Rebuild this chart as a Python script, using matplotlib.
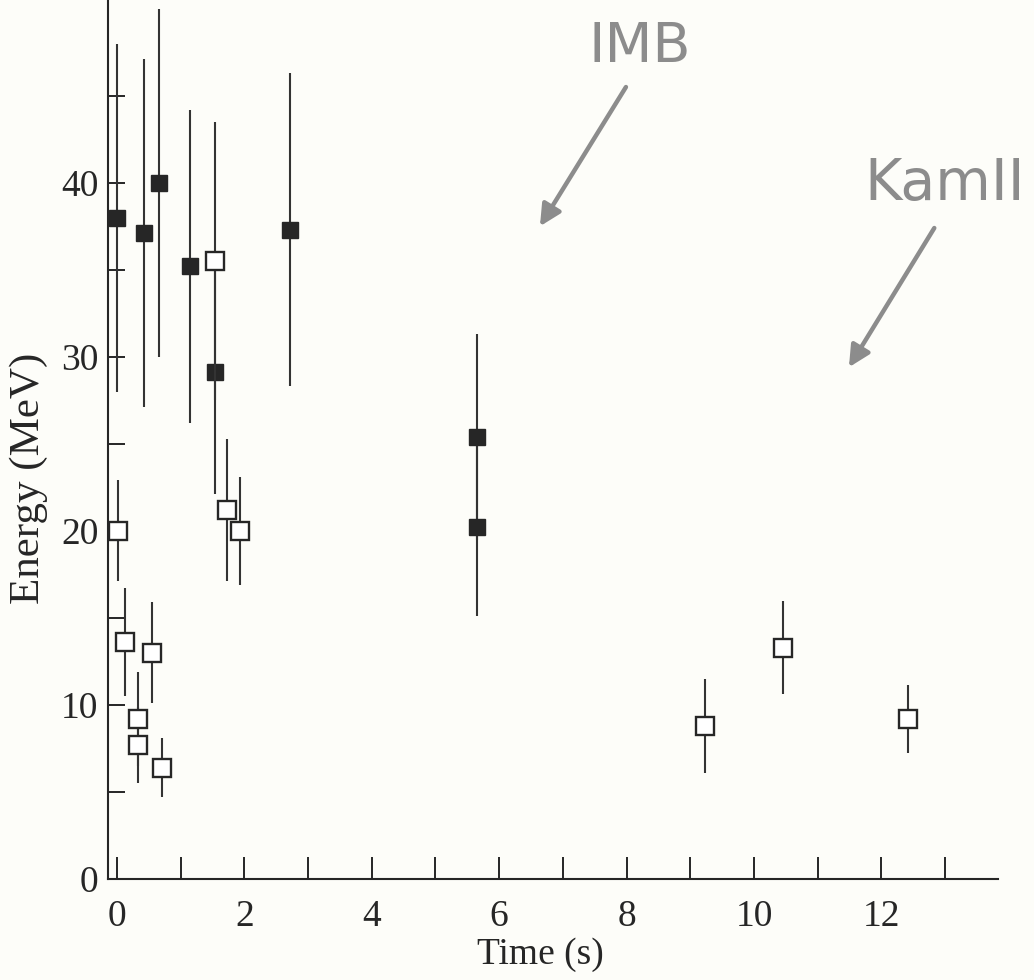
import numpy as np
import matplotlib.pyplot as plt
from matplotlib.ticker import FixedLocator

# IMB events (filled squares): time (s), energy (MeV), error (MeV)
imb_t = [0.0, 0.42, 0.66, 1.15, 1.54, 2.72, 5.65, 5.65]
imb_e = [38.0, 37.1, 40.0, 35.2, 29.1, 37.3, 25.4, 20.2]
imb_err = [10.0, 10.0, 10.0, 9.0, 7.0, 9.0, 5.9, 5.1]

# Kamiokande II events (open squares)
kam_t = [0.02, 0.13, 0.33, 0.33, 0.55, 0.70, 1.54, 1.73, 1.93, 9.23, 10.45, 12.42]
kam_e = [20.0, 13.6, 9.2, 7.7, 13.0, 6.4, 35.5, 21.2, 20.0, 8.8, 13.3, 9.2]
kam_err = [2.9, 3.1, 2.7, 2.2, 2.9, 1.7, 8.0, 4.1, 3.1, 2.7, 2.65, 1.95]

bg = '#fdfdf9'
ink = '#262626'
note = '#8c8c8c'
serif = 'Liberation Serif'

fig = plt.figure(figsize=(10.34, 9.8), dpi=100, facecolor=bg)
ax = fig.add_axes([108 / 1034, 101 / 980, 890 / 1034, 879 / 980])
ax.set_facecolor(bg)

ax.errorbar(imb_t, imb_e, yerr=imb_err, fmt='s', ms=11, mfc=ink, mec=ink,
            ecolor='#333333', elinewidth=1.5, capsize=0, zorder=3)
ax.errorbar(kam_t, kam_e, yerr=kam_err, fmt='s', ms=13, mfc='white', mec=ink,
            mew=1.7, ecolor='#333333', elinewidth=1.5, capsize=0, zorder=4)

ax.set_xlim(-0.14, 13.83)
ax.set_ylim(0, 50.5)

for s in ['top', 'right']:
    ax.spines[s].set_visible(False)
for s in ['left', 'bottom']:
    ax.spines[s].set_linewidth(1.5)
    ax.spines[s].set_color(ink)

# labelled ticks every 2 s / 10 MeV, unlabelled ones in between
ax.set_xticks(np.arange(0, 13, 2))
ax.xaxis.set_minor_locator(FixedLocator(np.arange(1, 14, 2)))
ax.set_yticks(np.arange(0, 41, 10))
ax.yaxis.set_minor_locator(FixedLocator(np.arange(5, 46, 10)))

ax.tick_params(axis='x', which='both', direction='in', length=16, width=1.4,
               color=ink, pad=15)
ax.tick_params(axis='y', which='both', direction='in', length=12, width=1.4,
               color=ink, pad=7)
ax.tick_params(axis='both', labelsize=27, labelcolor=ink)
for lbl in ax.get_xticklabels() + ax.get_yticklabels():
    lbl.set_fontfamily(serif)

fig.text(540 / 1034, 1 - 955 / 980, 'Time (s)', ha='center', va='center',
         fontsize=27, family=serif, color=ink)
fig.text(29 / 1034, 1 - 478 / 980, 'Energy (MeV)', ha='center', va='center',
         rotation=90, fontsize=31, family=serif, color=ink)

# detector labels with pointer arrows
arrow = dict(arrowstyle='-|>', color=note, lw=3.2, mutation_scale=32,
             shrinkA=0, shrinkB=0)
ax.text(8.2, 47.8, 'IMB', ha='center', va='center', fontsize=40,
        color=note, family='DejaVu Sans', clip_on=False)
ax.annotate('', xy=(6.64, 37.5), xytext=(7.99, 45.5), arrowprops=arrow,
            annotation_clip=False)
ax.text(11.74, 39.9, 'KamII', ha='left', va='center', fontsize=41,
        color=note, family='DejaVu Sans', clip_on=False)
ax.annotate('', xy=(11.49, 29.4), xytext=(12.83, 37.4), arrowprops=arrow,
            annotation_clip=False)

fig.savefig('out.png', dpi=100, facecolor=bg)
